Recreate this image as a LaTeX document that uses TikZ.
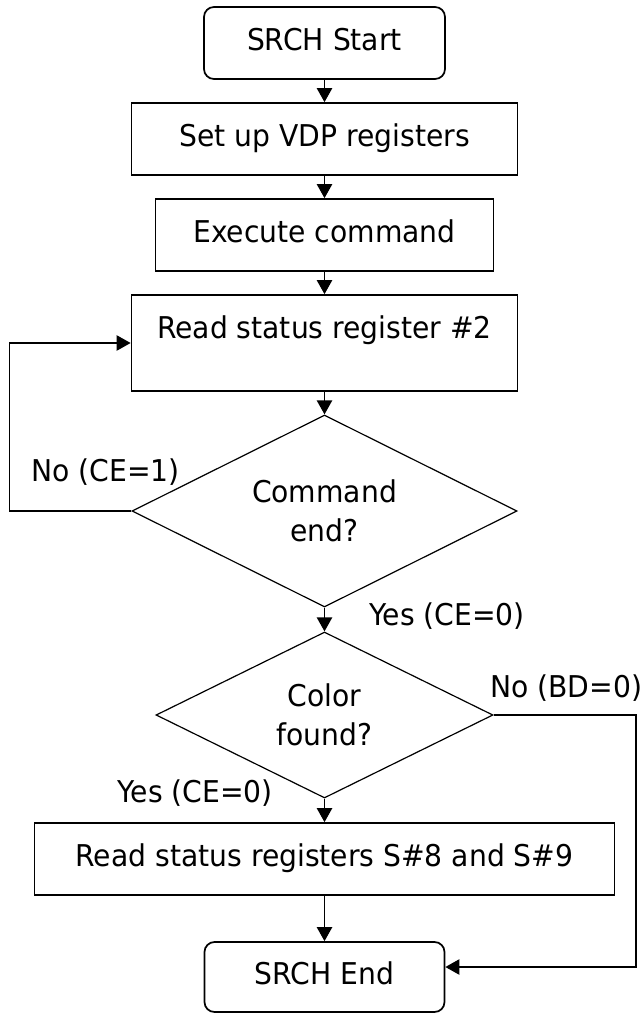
\documentclass[tikz,border=0pt]{standalone}
\usepackage{fontspec}
\setmainfont[FakeStretch=0.94]{DejaVu Sans}
\usetikzlibrary{shapes.geometric, arrows.meta}

\tikzset{
    box/.style={draw, line width=1.3pt, minimum height=54pt, text height=16pt, text depth=5pt, inner sep=0pt},
    term/.style={box, rounded corners=7.5pt},
    decision/.style={draw, diamond, aspect=2, line width=0.9pt, inner sep=0pt, align=center},
    arrow/.style={line width=1pt, ->},
    lbl/.style={inner sep=0pt, anchor=base west},
}

\begin{document}
\begin{tikzpicture}[x=0.75pt, y=-0.75pt, >={Triangle[length=10.5pt, width=11.5pt]},
        font=\fontsize{22.5pt}{29pt}\selectfont]
    \useasboundingbox (0,0) rectangle (643,1013);

    % Steps
    \node[term, minimum width=180.75pt] (start) at (324.5,43) {SRCH Start};
    \node[box, minimum width=289.5pt] (setup) at (324.5,139) {Set up VDP registers};
    \node[box, minimum width=253.5pt] (exec) at (324.5,235) {Execute command};
    \node[box, minimum width=289.5pt, minimum height=72pt, text depth=23.5pt] (readsr) at (324.5,343) {Read status register \#2};

    % Decisions
    \node[decision, minimum width=288.75pt, minimum height=144pt] (cmdend) at (324.5,511) {Command\\end?};
    \node[decision, minimum width=252.75pt, minimum height=124.5pt] (colorq) at (324.5,715) {Color\\found?};

    \node[box, minimum width=435pt] (readsr89) at (324.5,859) {Read status registers S\#8 and S\#9};
    \node[term, minimum width=180pt, minimum height=52.5pt] (endn) at (324.5,977) {SRCH End};

    % Main flow
    \draw[arrow] (start) -- (setup);
    \draw[arrow] (setup) -- (exec);
    \draw[arrow] (exec) -- (readsr);
    \draw[arrow] (readsr) -- (cmdend);
    \draw[arrow] (cmdend) -- (colorq);
    \draw[arrow] (colorq) -- (readsr89);
    \draw[arrow] (readsr89) -- (endn);

    % Loop back and skip
    \draw[arrow] (cmdend.west) -- ++(-122,0) |- (readsr.west);
    \coordinate (bdturn) at (636,967);
    \draw[arrow] (colorq.east) -| (bdturn) -- (endn.east |- bdturn);

    % Branch labels
    \node[lbl] (noce) at (31,481) {No (CE=1)};
    \node[lbl] (yesce) at (369,625) {Yes (CE=0)};
    \node[lbl] (nobd) at (490,697) {No (BD=0)};
    \node[lbl] (yescf) at (117,802) {Yes (CE=0)};
\end{tikzpicture}
\end{document}
